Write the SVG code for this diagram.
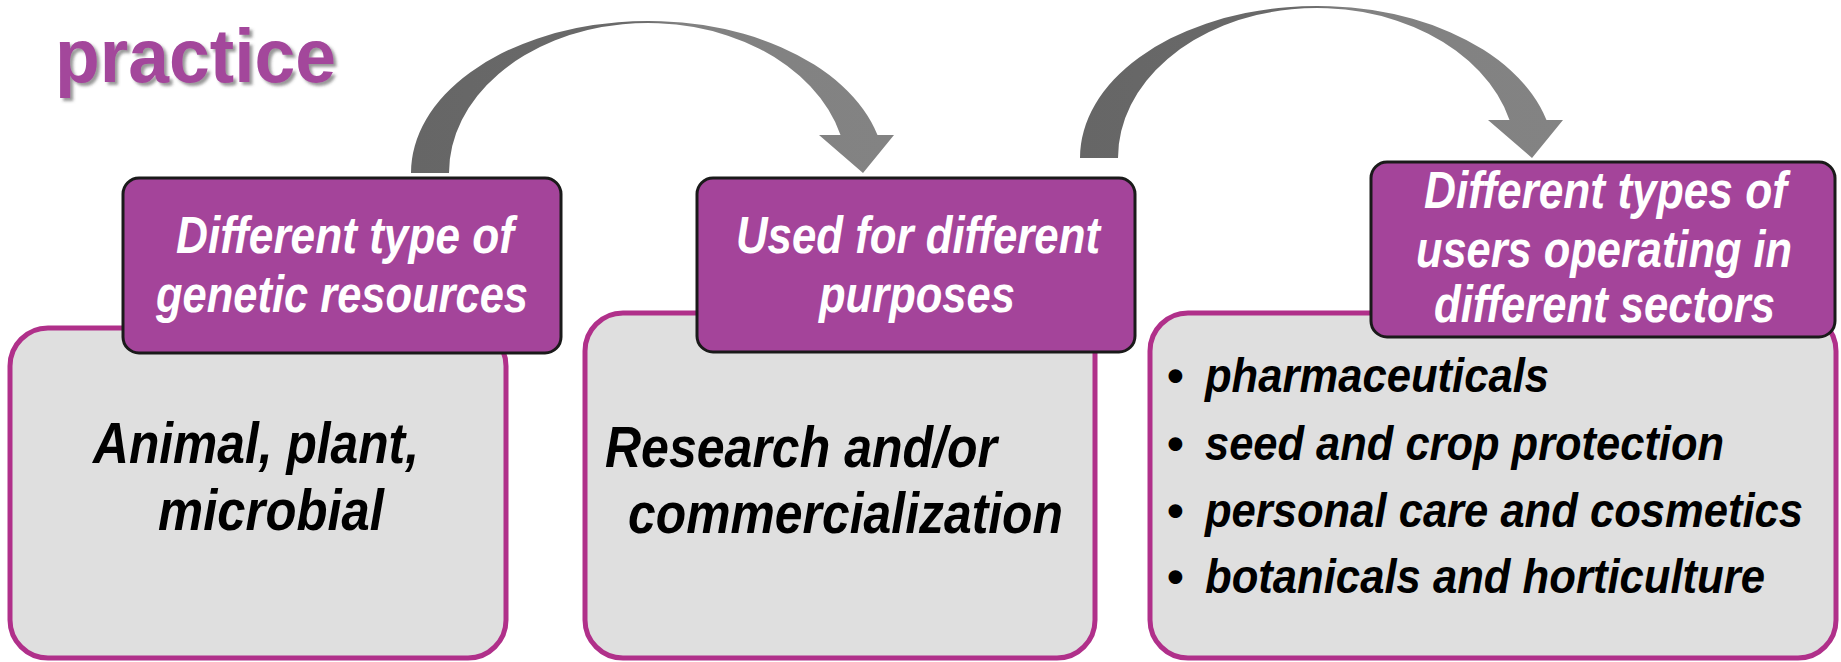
<svg xmlns="http://www.w3.org/2000/svg" width="1841" height="662" viewBox="0 0 1841 662">
  <defs>
    <linearGradient id="arcGrad" x1="0" y1="0" x2="1" y2="0">
      <stop offset="0" stop-color="#666666"/>
      <stop offset="0.47" stop-color="#6a6a6a"/>
      <stop offset="0.56" stop-color="#818181"/>
      <stop offset="1" stop-color="#838383"/>
    </linearGradient>
    <filter id="shadow" x="-10%" y="-10%" width="130%" height="140%">
      <feDropShadow dx="3" dy="3" stdDeviation="1.5" flood-color="#444444" flood-opacity="0.55"/>
    </filter>
    <path id="arc" d="M 411 173 A 237 152 0 0 1 877.5 135 L 894 135 L 863 173 L 819 135 L 840.5 135 A 199 150 0 0 0 449 173 Z"/>
  </defs>
  <style>
    .body { fill: #dfdfdf; stroke: #b0308a; stroke-width: 5; }
    .head { fill: #a4449a; stroke: #1a1a1a; stroke-width: 3; }
    .ht { font-family: "Liberation Sans", Arial, sans-serif; font-weight: bold; font-style: italic; font-size: 52px; fill: #ffffff; }
    .bt { font-family: "Liberation Sans", Arial, sans-serif; font-weight: bold; font-style: italic; font-size: 58px; fill: #000000; }
    .lt { font-family: "Liberation Sans", Arial, sans-serif; font-weight: bold; font-style: italic; font-size: 48px; fill: #000000; }
    .bul { font-family: "Liberation Sans", Arial, sans-serif; font-weight: bold; font-size: 48px; fill: #000000; }
    .title { font-family: "Liberation Sans", Arial, sans-serif; font-weight: bold; font-size: 76px; fill: #a3479b; }
  </style>
  <rect width="1841" height="662" fill="#ffffff"/>

  <text class="title" x="55" y="82" textLength="281" lengthAdjust="spacingAndGlyphs" filter="url(#shadow)">practice</text>

  <g id="connectors">
    <use href="#arc" fill="url(#arcGrad)"/>
    <use href="#arc" fill="url(#arcGrad)" transform="translate(669,-15)"/>
  </g>

  <g id="node1">
    <rect class="body" x="10" y="328" width="496" height="330" rx="38" ry="38"/>
    <rect class="head" x="123" y="178" width="438" height="175" rx="16" ry="16"/>
    <text class="ht" x="176" y="253" textLength="338" lengthAdjust="spacingAndGlyphs">Different type of</text>
    <text class="ht" x="156" y="312" textLength="372" lengthAdjust="spacingAndGlyphs">genetic resources</text>
    <text class="bt" x="93" y="463" textLength="326" lengthAdjust="spacingAndGlyphs">Animal, plant,</text>
    <text class="bt" x="158" y="530" textLength="226" lengthAdjust="spacingAndGlyphs">microbial</text>
  </g>

  <g id="node2">
    <rect class="body" x="585" y="313" width="510" height="345" rx="38" ry="38"/>
    <rect class="head" x="697" y="178" width="438" height="174" rx="16" ry="16"/>
    <text class="ht" x="736" y="253" textLength="364" lengthAdjust="spacingAndGlyphs">Used for different</text>
    <text class="ht" x="819" y="312" textLength="196" lengthAdjust="spacingAndGlyphs">purposes</text>
    <text class="bt" x="605" y="467" textLength="392" lengthAdjust="spacingAndGlyphs">Research and/or</text>
    <text class="bt" x="628" y="533" textLength="435" lengthAdjust="spacingAndGlyphs">commercialization</text>
  </g>

  <g id="node3">
    <rect class="body" x="1150" y="313" width="686" height="345" rx="38" ry="38"/>
    <rect class="head" x="1371" y="162" width="464" height="175" rx="16" ry="16"/>
    <text class="ht" x="1424" y="208" textLength="363" lengthAdjust="spacingAndGlyphs">Different types of</text>
    <text class="ht" x="1416" y="267" textLength="376" lengthAdjust="spacingAndGlyphs">users operating in</text>
    <text class="ht" x="1434" y="322" textLength="341" lengthAdjust="spacingAndGlyphs">different sectors</text>
    <text class="bul" x="1167" y="392">•</text>
    <text class="lt" x="1205" y="392" textLength="344" lengthAdjust="spacingAndGlyphs">pharmaceuticals</text>
    <text class="bul" x="1167" y="460">•</text>
    <text class="lt" x="1205" y="460" textLength="519" lengthAdjust="spacingAndGlyphs">seed and crop protection</text>
    <text class="bul" x="1167" y="527">•</text>
    <text class="lt" x="1205" y="527" textLength="598" lengthAdjust="spacingAndGlyphs">personal care and cosmetics</text>
    <text class="bul" x="1167" y="593">•</text>
    <text class="lt" x="1205" y="593" textLength="560" lengthAdjust="spacingAndGlyphs">botanicals and horticulture</text>
  </g>
</svg>
